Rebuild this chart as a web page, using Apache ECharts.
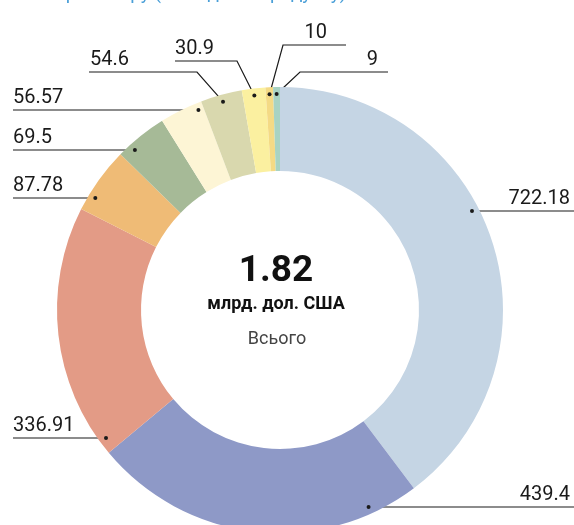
<!DOCTYPE html>
<html>
<head>
<meta charset="utf-8">
<script src="https://cdn.jsdelivr.net/npm/echarts@6/dist/echarts.min.js"></script>
<style>
  html, body { margin: 0; padding: 0; background: #fff; }
  #myChart { width: 574px; height: 525px; }
</style>
</head>
<body>
<div id="myChart"></div>
<script>
// дані (млн дол. США)
var categories = ['Категорія 1', 'Категорія 2', 'Категорія 3', 'Категорія 4', 'Категорія 5',
  'Категорія 6', 'Категорія 7', 'Категорія 8', 'Категорія 9', 'Категорія 10'];
var values = [722.18, 439.4, 336.91, 87.78, 69.5, 56.57, 54.6, 30.9, 10, 9];
var colors = ['#c5d5e4', '#8e99c7', '#e39b86', '#efbb76', '#a6ba97',
  '#fdf5d5', '#d9d8ae', '#fbf0a0', '#f4da85', '#a8d3c3'];

// геометрія кільця
var CX = 280, CY = 310;
var R_IN = 139, R_OUT = 223;
var DOT_R = 216;          // точка виноски трохи всередині кільця
var EDGE_L = 13, EDGE_R = 574;

// де стоять підписи (лінія виноски)
var labelSpots = [
  { side: 'right', y: 211 },
  { side: 'right', y: 507 },
  { side: 'left', y: 438 },
  { side: 'left', y: 198 },
  { side: 'left', y: 150 },
  { side: 'left', y: 110 },
  { side: 'left', y: 72, elbowX: 197, endX: 89, textX: 90 },
  { side: 'left', y: 61, elbowX: 237, endX: 175, textX: 175 },
  { side: 'right', y: 45, elbowX: 283, endX: 346, textX: 327 },
  { side: 'right', y: 72, elbowX: 300, endX: 388, textX: 378 }
];

var total = values.reduce(function (a, b) { return a + b; }, 0);

function leader(params) {
  var spot = labelSpots[params.dataIndex];
  var isLeft = spot.side === 'left';
  var dot, elbow, end, textX;
  if (spot.elbowX != null) {
    // точка на середині сектора
    var p = params.labelLinePoints[0];
    var ax = p[0] - CX, ay = p[1] - CY;
    var k = DOT_R / Math.sqrt(ax * ax + ay * ay);
    dot = [CX + ax * k, CY + ay * k];
    elbow = [spot.elbowX, spot.y];
    end = [spot.endX, spot.y];
    textX = spot.textX;
  } else {
    var dy = spot.y - CY;
    var dx = Math.sqrt(DOT_R * DOT_R - dy * dy);
    dot = [CX + (isLeft ? -dx : dx), spot.y];
    elbow = dot.slice();
    end = [isLeft ? EDGE_L : EDGE_R, spot.y];
    textX = isLeft ? EDGE_L : EDGE_R - 4;
  }
  return { dot: dot, elbow: elbow, end: end, textX: textX, align: isLeft ? 'left' : 'right' };
}

var pieData = values.map(function (v, i) {
  return { name: categories[i], value: v, itemStyle: { color: colors[i] } };
});

var myChart = echarts.init(document.getElementById('myChart'));
var option = {
  animation: false,
  graphic: [
    {
      type: 'text', x: EDGE_L, y: -6,
      style: { text: 'Експорт товару (за видами продукту)', font: '19px Roboto', fill: '#4a9fd8', verticalAlign: 'middle' }
    },
    {
      type: 'text', x: 276, y: 272,
      style: { text: (total / 1000).toFixed(2), font: 'bold 37px Roboto', fill: '#111', align: 'center', verticalAlign: 'middle' }
    },
    {
      type: 'text', x: 276, y: 304,
      style: { text: 'млрд. дол. США', font: 'bold 18px Roboto', fill: '#111', align: 'center', verticalAlign: 'middle' }
    },
    {
      type: 'text', x: 277, y: 339,
      style: { text: 'Всього', font: '18px Roboto', fill: '#444', align: 'center', verticalAlign: 'middle' }
    }
  ],
  series: [
    {
      type: 'pie',
      center: [CX, CY],
      radius: [R_IN, R_OUT],
      startAngle: 90,
      clockwise: true,
      silent: true,
      avoidLabelOverlap: false,
      data: pieData,
      label: {
        show: true,
        position: 'outside',
        formatter: function (p) { return String(p.value); },
        fontFamily: 'Roboto',
        fontSize: 20,
        color: '#1a1a1a'
      },
      labelLine: {
        show: true,
        showAbove: true,
        length: 15,
        length2: 15,
        lineStyle: { color: '#1a1a1a', width: 1.2 }
      },
      labelLayout: function (params) {
        var g = leader(params);
        return {
          x: g.textX,
          y: g.end[1] - 2,
          align: g.align,
          verticalAlign: 'bottom',
          labelLinePoints: [g.dot, g.elbow, g.end]
        };
      }
    },
    {
      // точки на кінцях виносок
      type: 'pie',
      z: 3,
      center: [CX, CY],
      radius: [R_IN, R_OUT],
      startAngle: 90,
      clockwise: true,
      silent: true,
      avoidLabelOverlap: false,
      data: values.map(function (v, i) { return { name: categories[i], value: v }; }),
      itemStyle: { color: 'rgba(0,0,0,0)' },
      label: {
        show: true,
        position: 'outside',
        formatter: '{d|}',
        rich: { d: { width: 4, height: 4, borderRadius: 2, backgroundColor: '#1a1a1a' } }
      },
      labelLine: { show: true, lineStyle: { opacity: 0 } },
      labelLayout: function (params) {
        var g = leader(params);
        return { x: g.dot[0], y: g.dot[1], align: 'center', verticalAlign: 'middle' };
      }
    }
  ]
};
myChart.setOption(option);
</script>
</body>
</html>
